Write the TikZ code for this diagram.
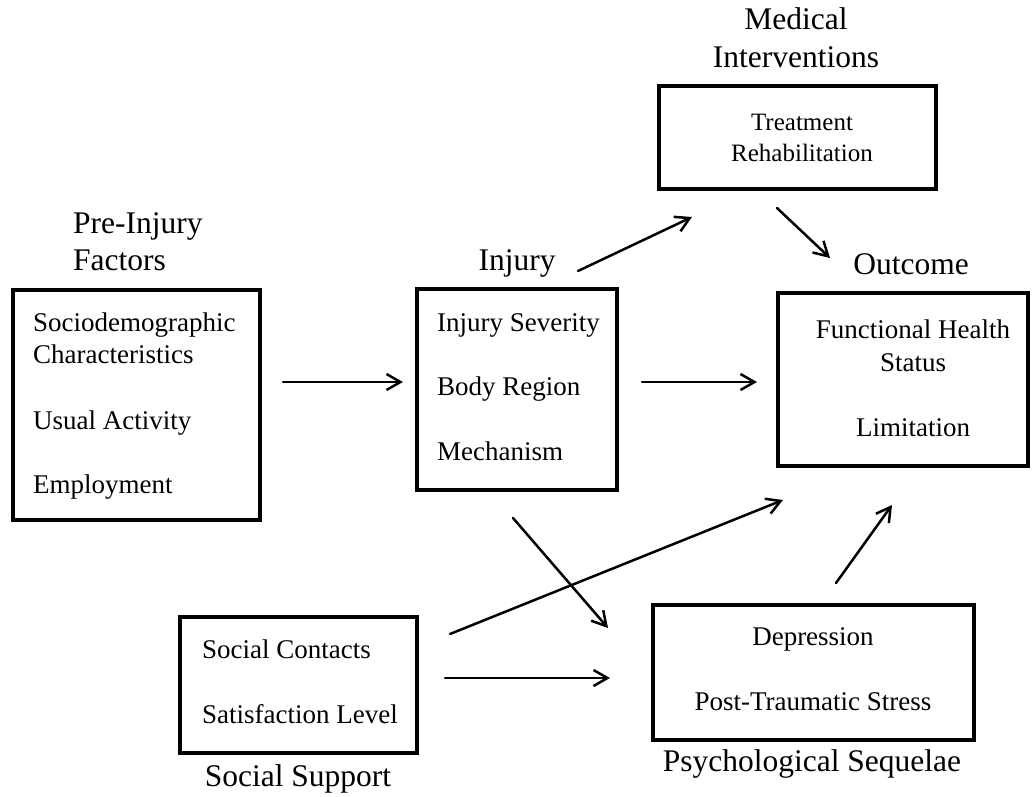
\documentclass[tikz,border=0pt]{standalone}
\usepackage{fontspec}
\setmainfont{Liberation Serif}
\usetikzlibrary{arrows.meta}
\begin{document}
\begin{tikzpicture}[x=1pt,y=-1pt,
  boxnode/.style={draw,line width=3.5pt,inner sep=0pt,outer sep=0pt,anchor=north west},
  btxt/.style={font=\fontsize{27}{30}\selectfont,inner sep=0pt,text height=0.66em,text depth=0pt},
  mtxt/.style={font=\fontsize{25}{28}\selectfont,inner sep=0pt,text height=0.66em,text depth=0pt},
  ltxt/.style={font=\fontsize{31.5}{34}\selectfont,inner sep=0pt,text height=0.66em,text depth=0pt},
  conn/.style={line width=2.5pt,line cap=round,-{Straight Barb[length=14pt,width=16pt,line width=2.5pt]}}]
\fill[white] (0,0) rectangle (1034,796);
\useasboundingbox (0,0) rectangle (1034,796);

% boxes
\node[boxnode,minimum width=247pt,minimum height=230pt] (pre) at (13,290) {};
\node[boxnode,minimum width=200pt,minimum height=201pt] (inj) at (417,289) {};
\node[boxnode,minimum width=277pt,minimum height=103pt] (med) at (659,86) {};
\node[boxnode,minimum width=250pt,minimum height=173pt] (out) at (778,293) {};
\node[boxnode,minimum width=321pt,minimum height=135pt] (psy) at (653,605) {};
\node[boxnode,minimum width=237pt,minimum height=136pt] (soc) at (180,617) {};

% group labels
\node[ltxt,anchor=west] (preA) at (73,230) {Pre-Injury};
\node[ltxt,anchor=west] (preB) at (73,267) {Factors};
\node[ltxt] (injL) at (517,267) {Injury};
\node[ltxt] (medA) at (796,26) {Medical};
\node[ltxt] (medB) at (796,64) {Interventions};
\node[ltxt] (outL) at (911,271) {Outcome};
\node[ltxt] (socL) at (298,783) {Social Support};
\node[ltxt] (psyL) at (812,768) {Psychological Sequelae};

% box contents
\node[btxt,anchor=west] (p1) at (33,328) {Sociodemographic};
\node[btxt,anchor=west] (p2) at (33,360) {Characteristics};
\node[btxt,anchor=west] (p3) at (33,426) {Usual Activity};
\node[btxt,anchor=west] (p4) at (33,490) {Employment};

\node[btxt,anchor=west] (i1) at (437,328) {Injury Severity};
\node[btxt,anchor=west] (i2) at (437,392) {Body Region};
\node[btxt,anchor=west] (i3) at (437,457) {Mechanism};

\node[mtxt] (m1) at (802,127) {Treatment};
\node[mtxt] (m2) at (802,158) {Rehabilitation};

\node[btxt] (o1) at (913,335) {Functional Health};
\node[btxt] (o2) at (913,368) {Status};
\node[btxt] (o3) at (913,433) {Limitation};

\node[btxt] (d1) at (813,642) {Depression};
\node[btxt] (d2) at (813,707) {Post-Traumatic Stress};

\node[btxt,anchor=west] (s1) at (202,655) {Social Contacts};
\node[btxt,anchor=west] (s2) at (202,720) {Satisfaction Level};

% arrow end points
\coordinate (a1s) at (283,382); \coordinate (a1e) at (403,382);
\coordinate (a2s) at (642,382); \coordinate (a2e) at (757,382);
\coordinate (a3s) at (578,271); \coordinate (a3e) at (692,217);
\coordinate (a4s) at (777,208); \coordinate (a4e) at (830,258);
\coordinate (a5s) at (513,518); \coordinate (a5e) at (608,628);
\coordinate (a6s) at (450,634); \coordinate (a6e) at (783,500);
\coordinate (a7s) at (445,678); \coordinate (a7e) at (610,678);
\coordinate (a8s) at (836,583); \coordinate (a8e) at (892,505);

\draw[conn] (a1s) -- (a1e);
\draw[conn] (a2s) -- (a2e);
\draw[conn] (a3s) -- (a3e);
\draw[conn] (a4s) -- (a4e);
\draw[conn] (a5s) -- (a5e);
\draw[conn] (a6s) -- (a6e);
\draw[conn] (a7s) -- (a7e);
\draw[conn] (a8s) -- (a8e);
\end{tikzpicture}
\end{document}
